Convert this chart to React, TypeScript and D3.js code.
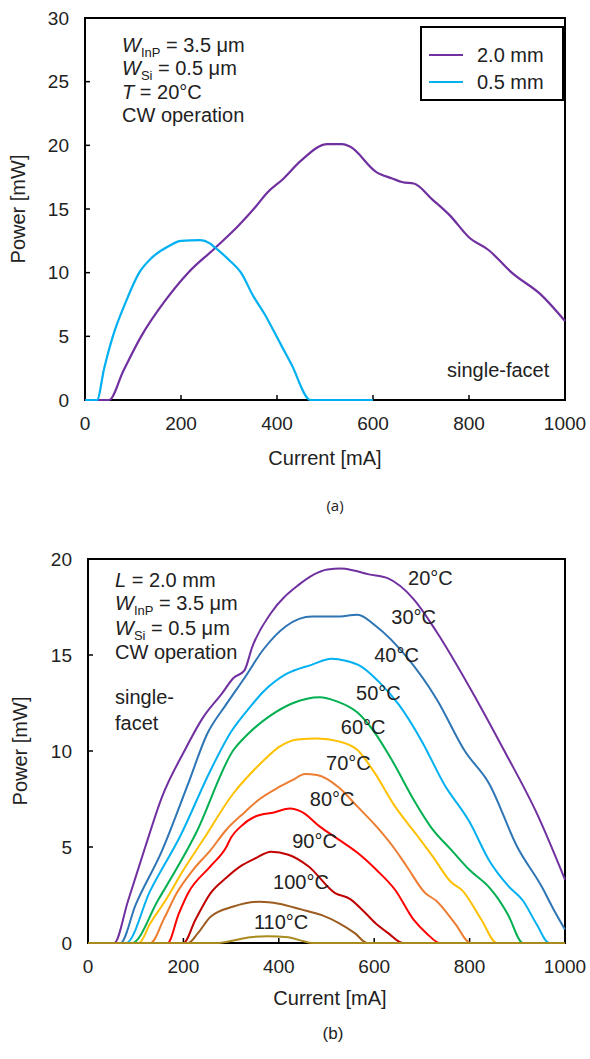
import React from 'react'
import * as d3 from 'd3'

// (a) output power vs current, two cavity lengths
const lenLabels = ['2.0 mm', '0.5 mm']
const long_I = [0, 50, 80, 117, 165, 215, 270, 320, 356, 380, 411, 450, 505, 536, 552, 607, 640, 662, 685, 725, 760, 802, 840, 889, 952, 1000]
const long_P = [0, 0, 2.3, 5, 7.7, 10, 11.9, 13.7, 15.2, 16.3, 17.3, 18.8, 20.1, 20.1, 19.9, 17.9, 17.4, 17.1, 17.0, 15.7, 14.5, 12.7, 11.8, 10.0, 8.2, 6.2]
const short_I = [0, 25, 40, 58, 85, 113, 140, 175, 200, 240, 260, 270, 300, 325, 350, 375, 399, 430, 470, 600]
const short_P = [0, 0, 2.5, 5, 7.7, 10, 11.2, 12.1, 12.5, 12.55, 12.3, 12.0, 11.0, 10, 8.2, 6.7, 5, 2.8, 0, 0]

// (b) L = 2.0 mm at several heat sink temperatures
const temps = ['20°C', '30°C', '40°C', '50°C', '60°C', '70°C', '80°C', '90°C', '100°C', '110°C']
const i20 = [0, 55, 84, 120, 155, 202, 240, 281, 305, 328, 344, 384, 439, 502, 530, 557, 589, 628, 683, 731, 814, 873, 940, 1000]
const p20 = [0, 0, 2.2, 5, 7.6, 10, 11.7, 13.0, 13.8, 14.2, 15.4, 17.2, 18.6, 19.45, 19.5, 19.4, 19.2, 19.0, 17.9, 16.2, 12.7, 10.0, 6.8, 3.3]
const i30 = [0, 68, 100, 155, 210, 250, 289, 328, 368, 415, 470, 520, 565, 604, 668, 731, 790, 841, 900, 952, 975, 1000]
const p30 = [0, 0, 2.0, 4.8, 8.3, 10.9, 12.4, 13.8, 15.3, 16.5, 17.0, 17.0, 17.1, 16.5, 14.9, 12.7, 10.0, 8.3, 5.0, 2.9, 1.8, 0.7]
const i40 = [0, 80, 130, 194, 257, 300, 340, 368, 415, 470, 510, 540, 573, 610, 652, 700, 746, 800, 841, 880, 912, 940, 967, 1000]
const p40 = [0, 0, 2.7, 5.6, 9.0, 11.0, 12.3, 13.1, 14.0, 14.5, 14.8, 14.7, 14.4, 13.6, 12.4, 10.5, 8.3, 6.3, 4.3, 3.0, 2.2, 1.0, 0, 0]
const i50 = [0, 92, 147, 226, 305, 336, 380, 430, 486, 520, 565, 600, 640, 683, 720, 762, 800, 841, 857, 880, 912, 1000]
const p50 = [0, 0, 2.24, 5.7, 10.05, 10.9, 11.8, 12.5, 12.8, 12.6, 12.0, 11.0, 9.4, 7.45, 6.0, 4.84, 3.8, 2.9, 2.4, 1.5, 0, 0]
const i60 = [0, 107, 130, 163, 200, 242, 305, 340, 368, 400, 439, 480, 526, 565, 600, 644, 690, 723, 760, 786, 825, 857, 1000]
const p60 = [0, 0, 1.0, 2.24, 3.8, 5.4, 7.8, 8.8, 9.5, 10.2, 10.6, 10.65, 10.5, 10.05, 8.9, 7.1, 5.6, 4.5, 3.2, 2.7, 1.2, 0, 0]
const i70 = [0, 131, 160, 186, 220, 257, 290, 328, 360, 399, 430, 455, 480, 526, 565, 605, 640, 668, 707, 730, 770, 802, 1000]
const p70 = [0, 0, 1.3, 2.6, 3.8, 4.84, 5.9, 6.8, 7.5, 8.1, 8.5, 8.8, 8.75, 8.1, 7.1, 6.06, 5.0, 4.0, 2.6, 2.2, 1.0, 0, 0]
const i80 = [0, 167, 190, 210, 257, 290, 300, 320, 352, 390, 423, 450, 486, 525, 565, 605, 644, 683, 710, 738, 1000]
const p80 = [0, 0, 1.5, 2.6, 4.0, 5.0, 5.5, 6.06, 6.6, 6.8, 7.0, 6.8, 6.06, 5.4, 4.7, 3.8, 2.76, 1.2, 0.5, 0, 0]
const i90 = [0, 200, 225, 257, 290, 320, 350, 384, 420, 462, 518, 549, 580, 604, 630, 660, 1000]
const p90 = [0, 0, 1.2, 2.6, 3.4, 4.0, 4.4, 4.75, 4.6, 4.0, 2.6, 2.3, 1.6, 1.0, 0.5, 0, 0]
const i100 = [0, 210, 230, 257, 305, 360, 400, 447, 490, 526, 560, 585, 1000]
const p100 = [0, 0, 0.5, 1.37, 1.9, 2.15, 2.05, 1.75, 1.45, 1.04, 0.5, 0, 0]
const i110 = [0, 270, 300, 340, 376, 420, 450, 470, 1000]
const p110 = [0, 0, 0.1, 0.3, 0.35, 0.3, 0.1, 0, 0]

const currentsB = [i20, i30, i40, i50, i60, i70, i80, i90, i100, i110]
const powersB = [p20, p30, p40, p50, p60, p70, p80, p90, p100, p110]

const xTicks = [0, 200, 400, 600, 800, 1000]
const yTicksA = [0, 5, 10, 15, 20, 25, 30]
const yTicksB = [0, 5, 10, 15, 20]

const lenColors = ['#7030A0', '#00B0F0']
const tempColors = ['#7030A0', '#2E75B6', '#00B0F0', '#00B050', '#FFC000', '#ED7D31', '#FF0000', '#C00000', '#9C5B1F', '#A88A1E']
// label anchors (current, power) for the temperature tags
const tagAt = [[671, 19.0], [636, 17.0], [600, 15.0], [562, 13.0], [530, 11.25], [499, 9.4], [465, 7.5], [428, 5.3], [388, 3.2], [348, 1.1]]

const font = '"Liberation Sans", Arial, sans-serif'

function zip(xs: number[], ys: number[]) {
    return xs.map((x, i) => [x, ys[i]] as [number, number])
}

function Frame({ x, y, yTicks }: any) {
    const [x0, x1] = x.range()
    const [y0, y1] = y.range()
    return (
        <g fontFamily={font} fontSize={19} fill="#222">
            {xTicks.map((t) => (
                <g key={'x' + t}>
                    <line x1={x(t)} x2={x(t)} y1={y0} y2={y0 - 5} stroke="#000" strokeWidth={1.5} />
                    <text x={x(t)} y={y0 + 23} dy="0.35em" textAnchor="middle">{t}</text>
                </g>
            ))}
            {yTicks.map((t: number) => (
                <g key={'y' + t}>
                    <line x1={x0} x2={x0 + 5} y1={y(t)} y2={y(t)} stroke="#000" strokeWidth={1.5} />
                    <text x={x0 - 16} y={y(t)} dy="0.35em" textAnchor="end">{t}</text>
                </g>
            ))}
            <rect x={x0} y={y1} width={x1 - x0} height={y0 - y1} fill="none" stroke="#000" strokeWidth={2} />
        </g>
    )
}

export default function App() {
    const xA = d3.scaleLinear().domain([0, 1000]).range([85, 565])
    const yA = d3.scaleLinear().domain([0, 30]).range([400, 18])
    const xB = d3.scaleLinear().domain([0, 1000]).range([88, 565])
    const yB = d3.scaleLinear().domain([0, 20]).range([943, 559])

    const lineA = d3.line<[number, number]>().x((d) => xA(d[0])).y((d) => yA(d[1])).curve(d3.curveMonotoneX)
    const lineB = d3.line<[number, number]>().x((d) => xB(d[0])).y((d) => yB(d[1])).curve(d3.curveMonotoneX)

    const seriesA = [zip(long_I, long_P), zip(short_I, short_P)]

    return (
        <svg width={590} height={1059} style={{ position: 'absolute', left: 0, top: 0, background: '#fff' }}>
            {/* ---------- (a) ---------- */}
            <Frame x={xA} y={yA} yTicks={yTicksA} />
            {seriesA.map((s, i) => (
                <path key={i} d={lineA(s) || ''} fill="none" stroke={lenColors[i]} strokeWidth={2.2} />
            ))}
            <g fontFamily={font} fontSize={20} fill="#222">
                <text x={122} y={45} dy="0.35em"><tspan fontStyle="italic">W</tspan><tspan fontSize={13} dy={5}>InP</tspan><tspan dy={-5}> = 3.5 μm</tspan></text>
                <text x={122} y={68} dy="0.35em"><tspan fontStyle="italic">W</tspan><tspan fontSize={13} dy={5}>Si</tspan><tspan dy={-5}> = 0.5 μm</tspan></text>
                <text x={122} y={92} dy="0.35em"><tspan fontStyle="italic">T</tspan> = 20°C</text>
                <text x={122} y={115} dy="0.35em">CW operation</text>
                <text x={447} y={370} dy="0.35em">single-facet</text>
                <rect x={421} y={27} width={142} height={73} fill="#fff" stroke="#000" strokeWidth={2} />
                {lenLabels.map((l, i) => (
                    <g key={l}>
                        <line x1={429} x2={463} y1={55 + i * 27} y2={55 + i * 27} stroke={lenColors[i]} strokeWidth={2.2} />
                        <text x={477} y={55 + i * 27} dy="0.35em">{l}</text>
                    </g>
                ))}
                <text x={18} y={209} dy="0.35em" textAnchor="middle" transform="rotate(-90 18 209)">Power [mW]</text>
                <text x={325} y={458} dy="0.35em" textAnchor="middle">Current [mA]</text>
            </g>
            <text x={335} y={506} dy="0.35em" textAnchor="middle" fontFamily='"Open Sans", sans-serif' fontSize={15} fill="#222">(a)</text>

            {/* ---------- (b) ---------- */}
            <Frame x={xB} y={yB} yTicks={yTicksB} />
            {currentsB.map((cur, i) => (
                <path key={temps[i]} d={lineB(zip(cur, powersB[i])) || ''} fill="none" stroke={tempColors[i]} strokeWidth={2} />
            ))}
            <g fontFamily={font} fontSize={20} fill="#222">
                {temps.map((t, i) => (
                    <text key={t} x={xB(tagAt[i][0])} y={yB(tagAt[i][1])} dy="0.35em">{t}</text>
                ))}
                <text x={115} y={580} dy="0.35em"><tspan fontStyle="italic">L</tspan> = 2.0 mm</text>
                <text x={115} y={603} dy="0.35em"><tspan fontStyle="italic">W</tspan><tspan fontSize={13} dy={5}>InP</tspan><tspan dy={-5}> = 3.5 μm</tspan></text>
                <text x={115} y={628} dy="0.35em"><tspan fontStyle="italic">W</tspan><tspan fontSize={13} dy={5}>Si</tspan><tspan dy={-5}> = 0.5 μm</tspan></text>
                <text x={115} y={652} dy="0.35em">CW operation</text>
                <text x={115} y={697} dy="0.35em">single-</text>
                <text x={115} y={723} dy="0.35em">facet</text>
                <text x={20} y={751} dy="0.35em" textAnchor="middle" transform="rotate(-90 20 751)">Power [mW]</text>
                <text x={330} y={998} dy="0.35em" textAnchor="middle">Current [mA]</text>
            </g>
            <text x={333} y={1033} dy="0.35em" textAnchor="middle" fontFamily={font} fontSize={17} fill="#222">(b)</text>
        </svg>
    )
}
